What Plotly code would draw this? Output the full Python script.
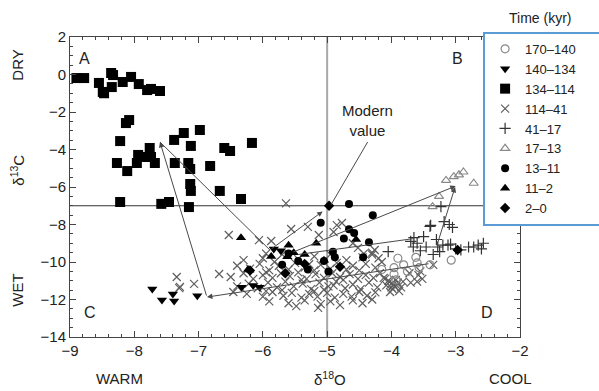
import plotly.graph_objects as go

# ---------------- data ----------------
labels = ["170–140", "140–134", "134–114", "114–41", "41–17", "17–13", "13–11", "11–2", "2–0"]

s170_x = [-3.62, -3.81, -3.96, -3.57, -3.40, -3.07, -3.96, -3.93, -3.90, -3.60, -4.15, -3.75]
s170_y = [-9.75, -10.15, -10.3, -10.3, -10.15, -9.9, -10.65, -10.95, -9.8, -10.05, -10.4, -10.5]

s140_x = [-7.72, -7.57, -7.40, -7.38, -7.02, -6.33, -6.15, -6.05, -5.83, -5.72]
s140_y = [-11.44, -12.03, -11.7, -12.08, -11.8, -11.35, -11.25, -11.35, -9.3, -9.4]

s134_x = [-8.90, -8.78, -8.55, -8.49, -8.47, -8.36, -8.33, -8.35, -8.18, -8.05, -7.93, -7.80, -7.74, -7.60,
          -8.13, -8.08, -8.22, -8.27, -8.11, -7.96, -7.94, -7.82, -7.76, -7.74, -7.68, -7.38, -7.37, -7.23,
          -7.16, -7.12, -7.13, -7.13, -7.12, -6.98, -6.82, -6.67, -6.60, -6.51, -6.34, -6.17, -8.22, -7.58,
          -7.46, -7.15]
s134_y = [-0.19, -0.19, -0.45, -0.93, -1.0, 0.08, -0.03, -0.67, -0.4, -0.13, -0.51, -0.83, -0.77, -0.88,
          -2.59, -2.43, -3.55, -4.72, -5.15, -4.72, -4.29, -4.4, -3.92, -4.4, -4.72, -3.49, -4.72, -3.12,
          -4.72, -3.81, -5.04, -5.84, -6.21, -2.96, -4.88, -6.21, -3.92, -4.08, -6.64, -3.65, -6.8, -6.9,
          -6.8, -7.07]

s114_x = [-6.0, -5.7, -5.45, -5.2, -4.95, -4.7, -4.45, -4.3, -5.95, -6.3,
          -6.4, -6.2, -6.05, -5.9, -5.75, -5.6, -5.5, -5.35, -5.2, -5.1, -4.95, -4.85, -4.7, -4.6, -4.5,
          -4.4, -4.25, -4.15, -5.82, -5.28,
          -6.5, -6.3, -6.15, -6.0, -5.85, -5.72, -5.58, -5.45, -5.32, -5.18, -5.05, -4.92, -4.8, -4.65,
          -4.52, -4.4, -4.28, -4.18, -4.1, -5.95, -5.4, -4.75,
          -6.4, -6.22, -6.08, -5.92, -5.78, -5.65, -5.52, -5.38, -5.25, -5.12, -4.98, -4.86, -4.72, -4.6,
          -4.48, -4.35, -4.22, -5.7, -5.05, -4.9,
          -6.25, -6.0, -5.85, -5.68, -5.55, -5.4, -5.28, -5.15, -5.0, -4.88, -4.75, -4.62, -4.5, -4.38,
          -4.25, -5.95, -5.2,
          -5.9, -5.6, -5.35, -5.1, -4.95, -4.8, -4.6, -4.45, -4.3, -5.14, -5.48,
          -4.12, -4.05, -4.0, -3.95, -3.9, -4.08, -3.98, -3.88, -4.02, -3.93, -3.85, -3.82, -3.7, -3.58,
          -3.55, -3.6, -3.52, -3.35, -3.72, -4.03, -3.97, -4.0, -3.92,
          -4.26, -4.52, -4.2, -4.43, -4.9, -4.85, -4.77, -5.13, -5.3, -5.56, -5.87, -6.06, -6.53, -5.64,
          -4.6, -4.3,
          -6.68, -7.34, -7.3, -7.07, -6.46, -7.29]
s114_y = [-9.8, -9.6, -9.85, -9.7, -9.6, -9.9, -9.75, -9.5, -9.55, -9.9,
          -10.2, -10.35, -10.1, -10.45, -10.2, -10.4, -10.05, -10.3, -10.45, -10.15, -10.35, -10.05, -10.4,
          -10.2, -10.45, -10.1, -10.3, -10.0, -10.0, -10.12,
          -10.8, -10.6, -10.9, -10.7, -10.85, -10.6, -10.75, -10.55, -10.9, -10.65, -10.85, -10.6, -10.8,
          -10.65, -10.9, -10.7, -10.85, -10.6, -10.9, -10.55, -10.95, -10.95,
          -11.3, -11.15, -11.4, -11.1, -11.35, -11.05, -11.3, -11.15, -11.45, -11.1, -11.3, -11.05, -11.4,
          -11.2, -11.45, -11.1, -11.35, -11.5, -11.48, -11.25,
          -11.7, -11.85, -11.6, -11.8, -11.65, -11.9, -11.7, -11.85, -11.65, -11.9, -11.7, -11.85, -11.6,
          -11.8, -11.62, -11.55, -11.55,
          -12.1, -12.2, -12.05, -12.25, -12.1, -12.3, -12.05, -12.2, -12.0, -12.45, -12.35,
          -10.85, -11.0, -11.15, -11.3, -11.1, -11.25, -11.45, -11.55, -11.6, -10.95, -11.35, -11.05, -11.1,
          -10.7, -10.5, -11.05, -10.9, -10.15, -10.6, -11.05, -11.2, -11.35, -11.25,
          -9.36, -9.25, -9.8, -9.55, -8.4, -8.03, -7.92, -8.56, -8.13, -8.24, -8.88, -8.83, -8.56, -6.87,
          -9.0, -9.6,
          -10.64, -10.8, -11.39, -11.17, -11.6, -11.33]

s41_x = [-3.23, -3.39, -3.18, -3.10, -3.05, -3.65, -3.50, -3.66, -3.46, -3.30, -3.28, -3.20, -3.12, -3.08,
         -3.35, -4.05, -2.92, -2.80, -2.72, -2.65, -2.57, -3.40, -3.60, -3.70, -3.00, -3.25, -2.60, -3.55]
s41_y = [-7.05, -8.05, -7.85, -8.0, -8.15, -8.7, -8.65, -9.2, -9.2, -8.8, -9.2, -9.1, -9.1, -9.05,
         -9.6, -9.45, -9.35, -9.2, -9.2, -9.1, -9.0, -8.1, -9.0, -8.9, -9.3, -9.45, -9.3, -9.4]

s17_x = [-3.15, -3.03, -2.95, -2.88, -2.72, -3.26, -3.36]
s17_y = [-5.65, -5.45, -5.35, -5.2, -5.8, -6.5, -7.05]

s13_x = [-4.66, -4.29, -5.10, -4.66, -4.58, -4.74, -4.35, -4.91, -4.88, -4.44, -5.05, -5.45, -5.70, -5.30,
         -5.60, -4.98]
s13_y = [-6.9, -7.5, -7.9, -8.25, -8.45, -8.75, -8.95, -9.45, -9.75, -9.75, -9.95, -9.95, -10.15, -10.4,
         -9.55, -10.5]

s11_x = [-6.34, -5.60, -5.17, -5.87, -5.62, -5.52, -6.23, -4.55, -5.35, -5.05]
s11_y = [-8.7, -9.1, -9.0, -9.7, -9.72, -9.5, -10.4, -8.8, -9.6, -9.9]

s2_x = [-4.97, -2.97, -6.20, -5.35, -4.80, -5.65]
s2_y = [-7.0, -9.36, -10.45, -10.1, -10.25, -10.6]

# trajectory arrows (tail -> head)
arrow_tail_x = [-5.89, -3.40, -6.87, -5.55, -3.30]
arrow_tail_y = [-9.36, -10.08, -11.87, -9.50, -9.20]
arrow_head_x = [-5.07, -6.87, -7.60, -3.00, -3.01]
arrow_head_y = [-7.30, -11.87, -3.60, -5.95, -6.00]

# plain trajectory segments
seg_x0 = [-7.60, -5.45, -4.37]
seg_y0 = [-3.60, -9.60, -3.60]
seg_x1 = [-5.89, -3.65, -4.94]
seg_y1 = [-9.36, -8.75, -6.95]

modern_x, modern_y = -5.0, -7.0
x_ticks = [-9, -8, -7, -6, -5, -4, -3, -2]
y_ticks = [2, 0, -2, -4, -6, -8, -10, -12, -14]

# ---------------- figure ----------------
FONT = "Liberation Sans, Arial, Helvetica, sans-serif"
fig = go.Figure()

styles = [
    (s170_x, s170_y, "circle-open", "#8a8a8a", 8, 1.2, 1),
    (s140_x, s140_y, "triangle-down", "black", 9, 0, 2),
    (s134_x, s134_y, "square", "black", 10, 0, 3),
    (s114_x, s114_y, "x-thin-open", "#5e5e5e", 8, 1.2, 4),
    (s41_x, s41_y, "cross-thin-open", "#333333", 8, 1.2, 5),
    (s17_x, s17_y, "triangle-up-open", "#8a8a8a", 8, 1.2, 6),
    (s13_x, s13_y, "circle", "black", 8, 0, 7),
    (s11_x, s11_y, "triangle-up", "black", 9, 0, 8),
    (s2_x, s2_y, "diamond", "black", 8, 0, 9),
]
order = [3, 0, 1, 2, 4, 5, 6, 7, 8]
for i in order:
    xs, ys, sym, col, sz, lw, rank = styles[i]
    name = labels[i] + ("\u00a0" * 5 if i == 0 else "")
    fig.add_trace(go.Scatter(
        x=xs, y=ys, mode="markers", name=name, legendrank=rank,
        marker=dict(symbol=sym, color=col, size=sz, line=dict(color=col, width=lw)),
    ))

line_col = "#4a4a4a"
fig.add_shape(type="line", x0=modern_x, x1=modern_x, y0=-14, y1=2, xref="x", yref="y",
              line=dict(color="#a8a8a8", width=2), layer="below")
fig.add_shape(type="line", x0=-9, x1=-2, y0=modern_y, y1=modern_y, xref="x", yref="y",
              line=dict(color="#333333", width=1), layer="below")

for a, b, c, d in zip(seg_x0, seg_y0, seg_x1, seg_y1):
    fig.add_shape(type="line", x0=a, y0=b, x1=c, y1=d, xref="x", yref="y",
                  line=dict(color=line_col, width=1))

for tx, ty, hx, hy in zip(arrow_tail_x, arrow_tail_y, arrow_head_x, arrow_head_y):
    fig.add_annotation(x=hx, y=hy, ax=tx, ay=ty, xref="x", yref="y", axref="x", ayref="y",
                       text="", showarrow=True, arrowhead=2, arrowsize=1.1, arrowwidth=1,
                       arrowcolor=line_col, standoff=0, startstandoff=0)

fig.add_annotation(x=-4.37, y=-2.43, xref="x", yref="y", text="Modern<br>value",
                   showarrow=False, font=dict(size=15, color="#222"))

for txt, qx, qy in [("A", -8.77, 0.88), ("B", -2.97, 0.88), ("C", -8.69, -12.67), ("D", -2.51, -12.67)]:
    fig.add_annotation(x=qx, y=qy, xref="x", yref="y", text=txt, showarrow=False,
                       font=dict(size=16, color="#222"))

side = [("DRY", -0.116, 0.907), ("δ<sup>13</sup>C", -0.116, 0.557), ("WET", -0.116, 0.157)]
for txt, px, py in side:
    fig.add_annotation(x=px, y=py, xref="paper", yref="paper", text=txt, showarrow=False,
                       xanchor="center", yanchor="middle", textangle=-90,
                       font=dict(size=15, color="#222"))
bottom = [("WARM", 0.111, -0.137), ("δ<sup>18</sup>O", 0.578, -0.137), ("COOL", 0.978, -0.137)]
for txt, px, py in bottom:
    fig.add_annotation(x=px, y=py, xref="paper", yref="paper", text=txt, showarrow=False,
                       xanchor="center", yanchor="middle", font=dict(size=15, color="#222"))

fig.add_annotation(x=1.044, y=1.063, xref="paper", yref="paper", text="Time (kyr)",
                   showarrow=False, xanchor="center", yanchor="middle",
                   font=dict(size=14, color="#222"))

axis_common = dict(ticks="inside", ticklen=6, tickcolor="#444", showline=True, linecolor="#444",
                   linewidth=1, mirror="ticks", showgrid=False, zeroline=False,
                   tickfont=dict(size=15, color="#222"))
fig.update_xaxes(range=[-9, -2], tickvals=x_ticks,
                 minor=dict(ticks="inside", dtick=0.2, tick0=-9, ticklen=3, tickcolor="#444", showgrid=False),
                 **axis_common)
fig.update_yaxes(range=[-14, 2], tickvals=y_ticks,
                 minor=dict(ticks="inside", dtick=0.5, tick0=-14, ticklen=3, tickcolor="#444", showgrid=False),
                 **axis_common)

fig.update_layout(
    width=599, height=391,
    margin=dict(l=70, r=79, t=37, b=54, autoexpand=False),
    plot_bgcolor="white", paper_bgcolor="white",
    font=dict(family=FONT, size=15, color="#222"),
    showlegend=True,
    hovermode=False,
    legend=dict(x=0.918, y=1.017, xanchor="left", yanchor="top", bgcolor="white",
                bordercolor="#5b9bd5", borderwidth=2, font=dict(size=13, color="#222"),
                itemwidth=30, tracegroupgap=0),
)

fig.write_html("out.html", config={"displayModeBar": False},
               post_script="document.body.style.margin='0';document.body.style.overflow='hidden';")
